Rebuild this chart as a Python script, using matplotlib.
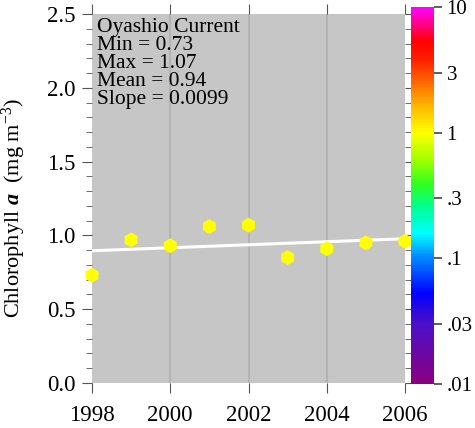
import numpy as np
import matplotlib
matplotlib.use('Agg')
import matplotlib.pyplot as plt
from matplotlib.colors import LinearSegmentedColormap, LogNorm
from matplotlib.cm import ScalarMappable

plt.rcParams['font.family'] = ['Liberation Serif', 'DejaVu Serif']
plt.rcParams['mathtext.fontset'] = 'custom'
plt.rcParams['mathtext.rm'] = 'Liberation Serif'
plt.rcParams['mathtext.it'] = 'Liberation Serif:italic'
plt.rcParams['mathtext.bf'] = 'Liberation Serif:bold:italic'

# data
years = [1998, 1999, 2000, 2001, 2002, 2003, 2004, 2005, 2006]
chl = [0.73, 0.97, 0.93, 1.06, 1.07, 0.85, 0.91, 0.95, 0.96]
region = 'Oyashio Current'
stats = ['Min = 0.73', 'Max = 1.07', 'Mean = 0.94', 'Slope = 0.0099']
xticks = [1998, 2000, 2002, 2004, 2006]
cb_ticks = [0.01, 0.03, 0.1, 0.3, 1, 3, 10]
cb_labels = ['.01', '.03', '.1', '.3', '1', '3', '10']

# colour scale (log position from .01 to 10)
cb_stops = [(0.0, '#8a0080'), (0.16, '#4a10c8'), (0.24, '#0000ff'),
            (0.34, '#0090ff'), (0.40, '#00ffff'), (0.47, '#00ff90'),
            (0.53, '#30ff20'), (0.60, '#a8ff00'), (0.667, '#ffff00'),
            (0.73, '#ffc000'), (0.80, '#ff6a00'), (0.86, '#ff2000'),
            (0.91, '#ff0000'), (0.96, '#ff0090'), (1.0, '#ff00ff')]

fig = plt.figure(figsize=(4.75, 4.28), dpi=100)
ax = fig.add_axes([92/475, 45/428, 313/475, 369/428])
ax.set_facecolor('#c6c6c6')
ax.set_xlim(1998, 2006)
ax.set_ylim(0, 2.5)

for x in [2000, 2002, 2004]:
    ax.axvline(x, color='#b2b2b2', lw=1.3, zorder=1)

fit = np.polyfit(years, chl, 1)
xs = np.array([years[0], years[-1]])
ax.plot(xs, np.polyval(fit, xs), color='white', lw=2.2, zorder=2)
ax.scatter(years, chl, marker='h', s=115, color='#ffff00', edgecolors='none',
           zorder=3, clip_on=False)

ax.set_xticks(xticks)
ax.set_yticks([0, 0.5, 1.0, 1.5, 2.0, 2.5])
ax.set_yticklabels(['0.0', '0.5', '1.0', '1.5', '2.0', '2.5'])
ax.set_yticks(np.arange(0, 2.51, 0.1), minor=True)
ax.tick_params(axis='both', which='both', direction='out', top=True, right=True,
               labelsize=16.5, color='#555555')
ax.tick_params(axis='both', which='major', length=7, pad=5)
ax.tick_params(axis='y', which='minor', length=4)
ax.tick_params(axis='x', which='major', pad=9)
for s in ax.spines.values():
    s.set_visible(False)

ax.set_ylabel(r'Chlorophyll $\mathbf{a}$  (mg m$^{-3}$)', fontsize=16)
ax.yaxis.set_label_coords(-0.205, 0.475)

ax.text(0.015, 0.99, '\n'.join([region] + stats), transform=ax.transAxes,
        ha='left', va='top', fontsize=15.5, linespacing=0.94, zorder=4)

cmap = LinearSegmentedColormap.from_list('chl', cb_stops)
cax = fig.add_axes([411/475, 44/428, 23/475, 377/428])
sm = ScalarMappable(norm=LogNorm(vmin=0.01, vmax=10), cmap=cmap)
cb = fig.colorbar(sm, cax=cax)
cb.outline.set_visible(False)
cb.set_ticks(cb_ticks)
cb.set_ticklabels(cb_labels)
cb.minorticks_off()
cax.tick_params(which='major', labelsize=15, length=6, width=1.2,
                color='#444444', pad=3)

fig.savefig('out.png', dpi=100)
